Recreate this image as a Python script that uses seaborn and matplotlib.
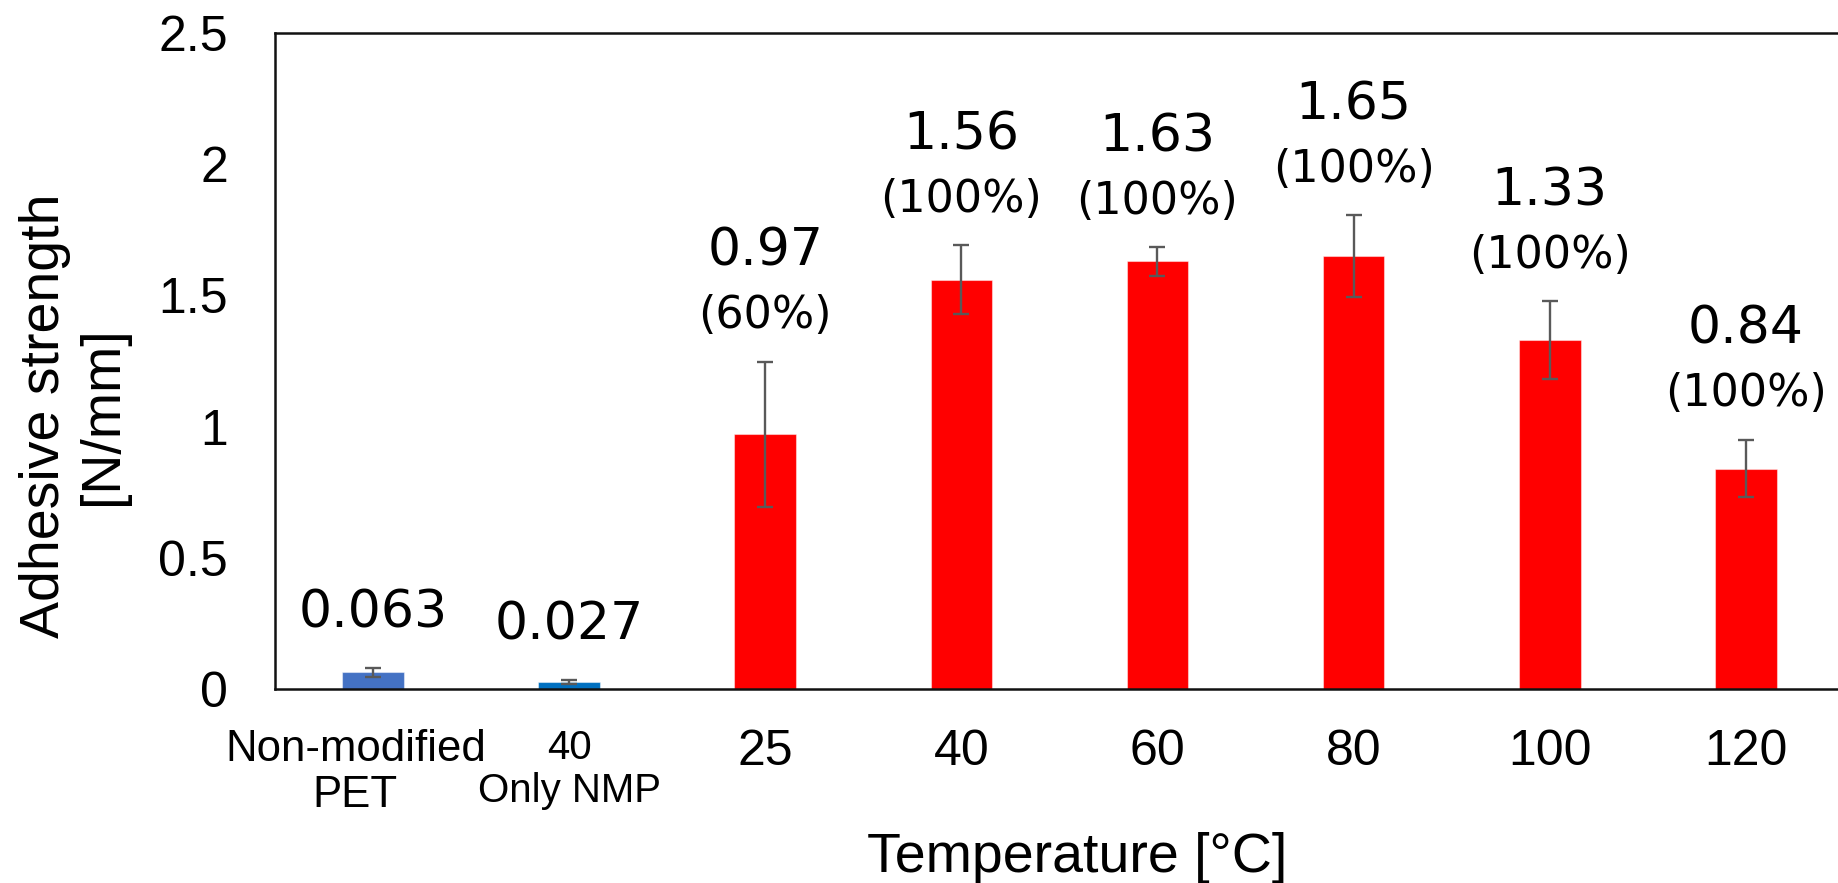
import matplotlib
matplotlib.use("Agg")
import matplotlib.pyplot as plt
import seaborn as sns
import pandas as pd

# ---- data ----
categories = ["Non-modified\nPET", "40\nOnly NMP", "25", "40", "60", "80", "100", "120"]
strength = [0.063, 0.027, 0.97, 1.56, 1.63, 1.65, 1.33, 0.84]
errors = [0.017, 0.008, 0.277, 0.132, 0.055, 0.157, 0.147, 0.110]
value_labels = ["0.063", "0.027", "0.97", "1.56", "1.63", "1.65", "1.33", "0.84"]
percent_labels = ["", "", "(60%)", "(100%)", "(100%)", "(100%)", "(100%)", "(100%)"]
bar_colors = ["#4472C4", "#0070C0", "#FF0000", "#FF0000", "#FF0000", "#FF0000", "#FF0000", "#FF0000"]
y_ticks = [0, 0.5, 1, 1.5, 2, 2.5]
y_tick_labels = ["0", "0.5", "1", "1.5", "2", "2.5"]

# style-only horizontal nudges of the category text (ticks are invisible)
label_nudge = [-0.09, 0.0, 0, 0, 0, 0, 0, 0]
label_sizes = [31.5, 29, 36, 36, 36, 36, 36, 36]

sns.set_style("white")
plt.rcParams["font.family"] = ["Liberation Sans", "DejaVu Sans"]
for k in ["text.color", "axes.labelcolor", "xtick.color", "ytick.color"]:
    plt.rcParams[k] = "black"

df = pd.DataFrame({"cat": categories, "val": strength})

fig = plt.figure(figsize=(18.38, 8.83), dpi=100)
ax = fig.add_axes([275 / 1838, 1 - 689 / 883, 1 - 275 / 1838, (689 - 33) / 883])

sns.barplot(data=df, x="cat", y="val", hue="cat", palette=bar_colors,
            saturation=1, width=0.314, legend=False, ax=ax,
            edgecolor=(1, 1, 1, 0.45), linewidth=0.8)
ax.errorbar(range(len(categories)), strength, yerr=errors, fmt="none",
            ecolor="#595959", elinewidth=1.7, capsize=6, capthick=1.7, zorder=5)

ax.set_xlim(-0.5, 7.47)
ax.set_ylim(0, 2.5)
ax.set_yticks(y_ticks)
ax.set_yticklabels(y_tick_labels, fontsize=36)
ax.set_xticks([i + d for i, d in enumerate(label_nudge)])
ax.set_xticklabels(categories)
for t, s in zip(ax.get_xticklabels(), label_sizes):
    t.set_fontsize(s)
    t.set_linespacing(1.15)
ax.set_xlabel("")
ax.set_ylabel("")

ax.tick_params(axis="y", direction="in", length=10, width=1.3, pad=34, colors="black")
ax.tick_params(axis="x", length=0, pad=29, colors="black")

for side in ["left", "top", "bottom"]:
    ax.spines[side].set_visible(True)
    ax.spines[side].set_color("#111111")
    ax.spines[side].set_linewidth(1.8)
ax.spines["right"].set_visible(False)

for i in range(len(categories)):
    top = strength[i] + errors[i]
    if percent_labels[i]:
        ax.annotate(value_labels[i], (i, top), xytext=(0, 69), textcoords="offset points",
                    ha="center", va="baseline", fontsize=37.5, family="DejaVu Sans")
        ax.annotate(percent_labels[i], (i, top), xytext=(0, 24), textcoords="offset points",
                    ha="center", va="baseline", fontsize=32, family="DejaVu Sans")
    else:
        ax.annotate(value_labels[i], (i, top), xytext=(0, 29), textcoords="offset points",
                    ha="center", va="baseline", fontsize=37.5, family="DejaVu Sans")

fig.text(74 / 1838, 1 - 416 / 883, "Adhesive strength\n[N/mm]", rotation=90,
         ha="center", va="center", fontsize=40, linespacing=1.15)
fig.text(1077 / 1838, 1 - 872 / 883, "Temperature [°C]", ha="center", va="baseline",
         fontsize=40)

fig.savefig("out.png", dpi=100)
